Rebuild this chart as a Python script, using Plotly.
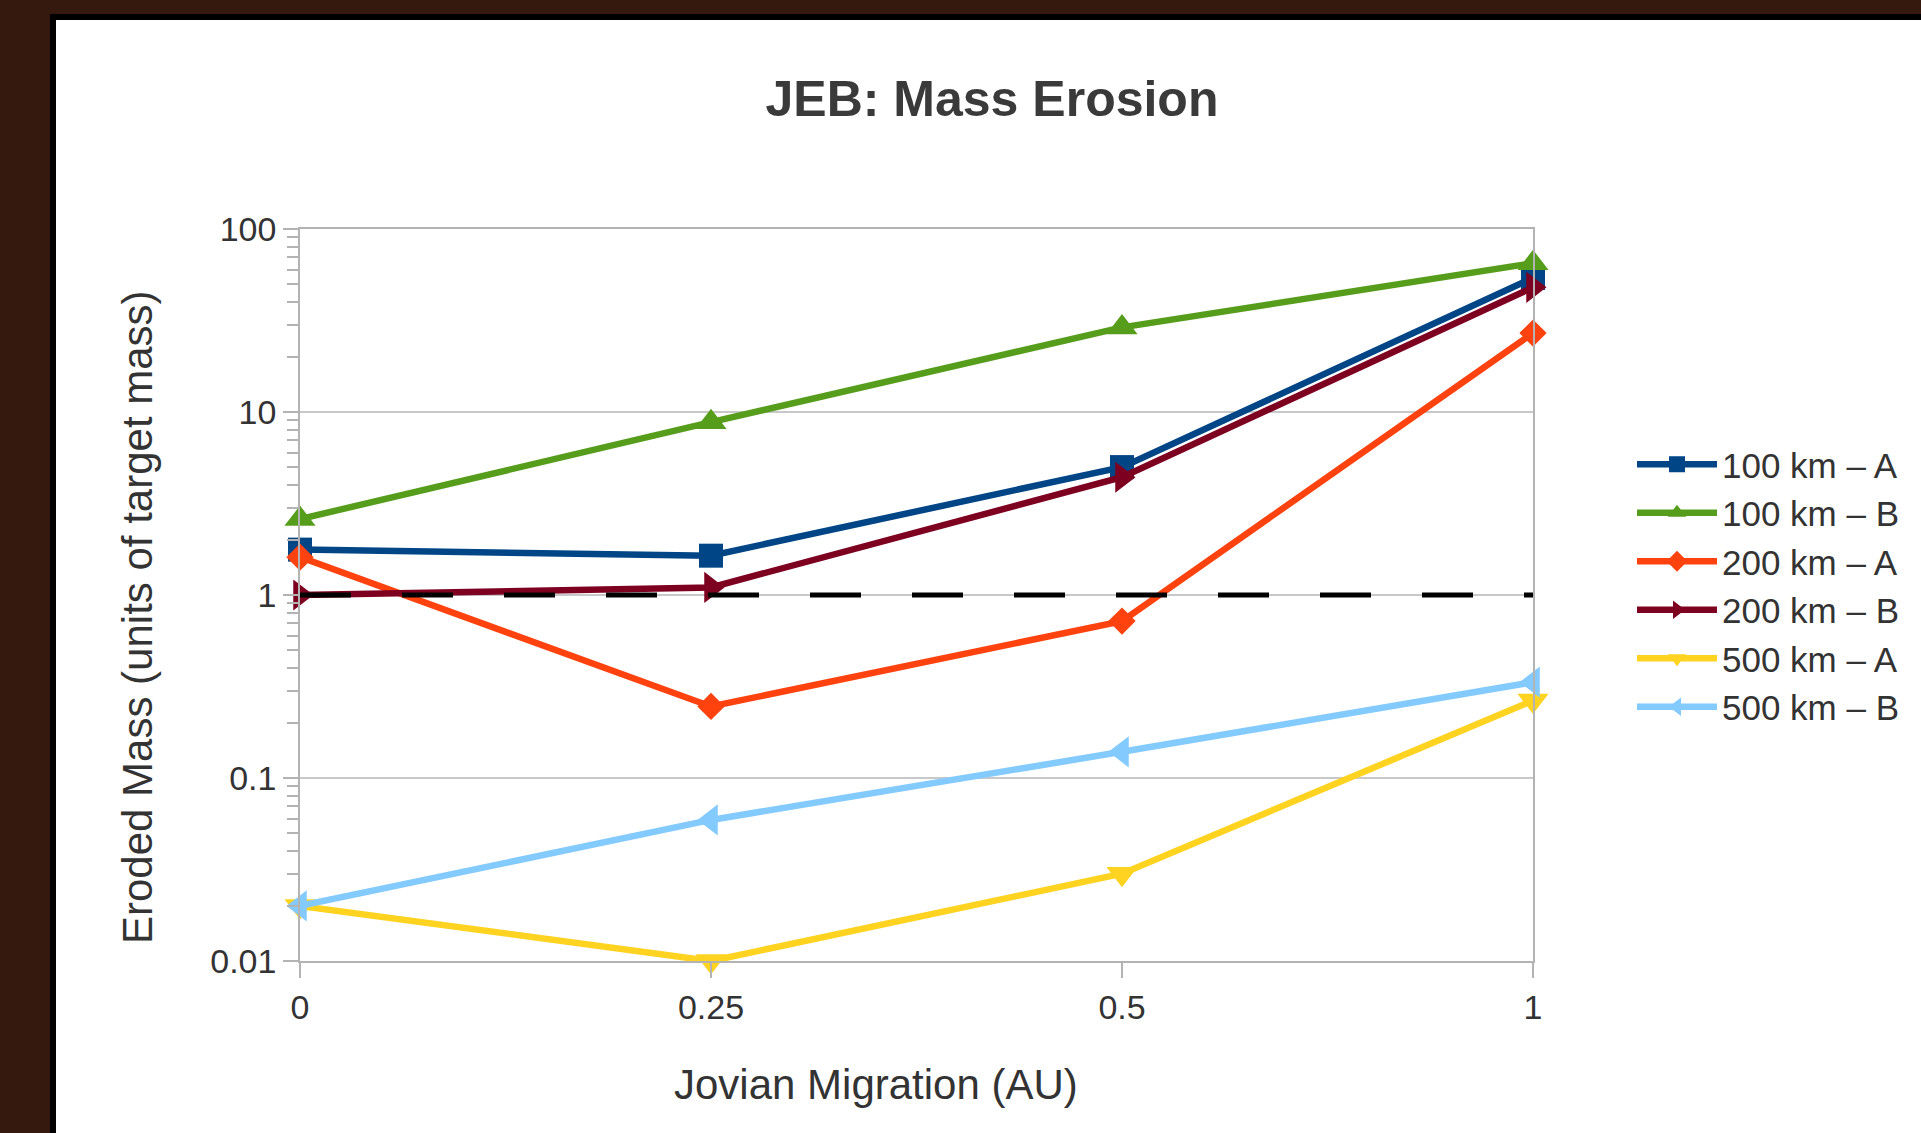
import plotly.graph_objects as go

# ---- data ----
migration = ["0", "0.25", "0.5", "1"]
series_names = ["100 km – A", "100 km – B", "200 km – A", "200 km – B", "500 km – A", "500 km – B"]
km100_A = [1.77, 1.64, 5.0, 54]
km100_B = [2.6, 8.8, 29, 65]
km200_A = [1.61, 0.246, 0.72, 27]
km200_B = [1.0, 1.1, 4.4, 48]
km500_A = [0.02, 0.01, 0.03, 0.265]
km500_B = [0.02, 0.059, 0.139, 0.334]
reference_level = [1, 1, 1, 1]
y_tickvals = [0.01, 0.1, 1, 10, 100]
y_ticktext = ["0.01", "0.1", "1", "10", "100"]

series = [km100_A, km100_B, km200_A, km200_B, km500_A, km500_B]
colors = ["#004586", "#579d1c", "#ff420e", "#7e0021", "#ffd320", "#83caff"]
symbols = ["square", "triangle-up", "diamond", "triangle-right", "triangle-down", "triangle-left"]
sizes = [24, 27, 21, 27, 27, 27]

W, H = 1921, 1133
L, R, T, B = 300, 1533, 229, 961
pw, ph = R - L, B - T

def px(x):
    return (x - L) / pw

def py(y):
    return (B - y) / ph

FONT = "Liberation Sans, Arial, sans-serif"
TXT = "#333333"
GRID = "#b3b3b3"

fig = go.Figure()
for name, vals, c, s, sz in zip(series_names, series, colors, symbols, sizes):
    fig.add_trace(go.Scatter(
        x=migration, y=vals, name=name, mode="lines+markers",
        line=dict(color=c, width=6.5),
        marker=dict(symbol=s, size=sz, color=c),
        cliponaxis=False,
    ))

fig.add_trace(go.Scatter(
    x=migration, y=reference_level, mode="lines", showlegend=False,
    line=dict(color="black", width=5, dash="51px,51px"), hoverinfo="skip",
    cliponaxis=False,
))

minor_vals = [m * 10 ** e for e in range(-2, 2) for m in range(2, 10)]

fig.update_layout(
    width=W, height=H,
    margin=dict(l=L, r=W - R, t=T, b=H - B),
    paper_bgcolor="#35190f",
    plot_bgcolor="white",
    font=dict(family=FONT, color=TXT, size=34),
    title=dict(text="<b>JEB: Mass Erosion</b>", x=992 / W, xanchor="center",
               y=1 - 98 / H, yanchor="middle", xref="container", yref="container",
               font=dict(size=50, color="#3a3a3a", family=FONT)),
    showlegend=True,
    legend=dict(x=px(1632), xanchor="left", y=py(435), yanchor="top",
                bgcolor="rgba(0,0,0,0)", font=dict(size=35, color=TXT),
                itemwidth=80, tracegroupgap=0),
    xaxis=dict(type="category", range=[0, 3], showgrid=False,
               showline=True, linecolor=GRID, linewidth=1.5, mirror=True,
               ticks="outside", ticklen=15, tickcolor=GRID, tickwidth=1.5,
               tickfont=dict(size=34, color=TXT), zeroline=False),
    yaxis=dict(type="log", range=[-2, 2], tickvals=y_tickvals, ticktext=y_ticktext,
               showgrid=True, gridcolor="#c8c8c8", gridwidth=1.5,
               showline=True, linecolor=GRID, linewidth=1.5, mirror=True,
               ticks="outside", ticklen=15, tickcolor=GRID, tickwidth=1.5,
               tickfont=dict(size=34, color=TXT), zeroline=False,
               minor=dict(tickvals=minor_vals, ticks="outside", ticklen=11,
                          tickcolor=GRID, tickwidth=1.5, showgrid=False)),
)

# white slide panel with black frame
fig.add_shape(type="rect", xref="paper", yref="paper",
              x0=px(53), x1=px(W + 30), y0=py(H + 30), y1=py(17),
              fillcolor="white", line=dict(color="black", width=6), layer="below")

fig.add_annotation(text="Jovian Migration (AU)", xref="paper", yref="paper",
                   x=px(876), y=py(1084), xanchor="center", yanchor="middle",
                   showarrow=False, font=dict(size=42, color=TXT, family=FONT))
fig.add_annotation(text="Eroded Mass (units of target mass)", xref="paper", yref="paper",
                   x=px(137), y=py(617), xanchor="center", yanchor="middle", textangle=-90,
                   showarrow=False, font=dict(size=42, color=TXT, family=FONT))

fig.write_html("out.html", config={"displayModeBar": False},
               post_script="document.body.style.margin='0px';document.body.style.overflow='hidden';")
